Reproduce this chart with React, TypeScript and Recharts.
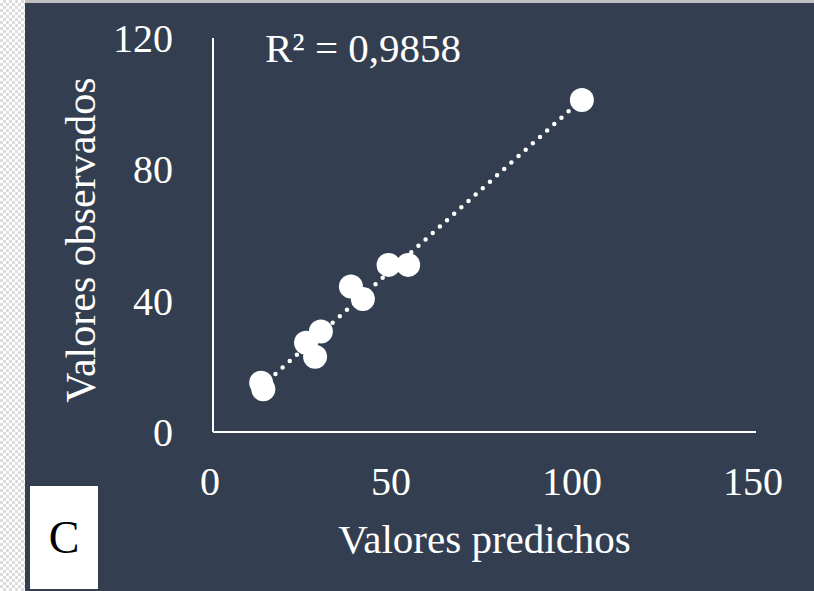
import { Label, ReferenceLine, Scatter, ScatterChart, XAxis, YAxis } from "recharts";

const predicted = [13.3, 13.9, 25.7, 28.2, 29.8, 38.1, 41.4, 48.5, 53.9, 101.9];
const observed = [15.0, 13.0, 27.2, 22.9, 30.6, 44.3, 40.5, 50.9, 50.9, 101.1];
const xTicks = [0, 50, 100, 150];
const yTicks = [0, 40, 80, 120];
const xTitle = "Valores predichos";
const yTitle = "Valores observados";
const r2Label = "R² = 0,9858";
const panelLetter = "C";

const points = predicted.map((x, i) => ({ x, y: observed[i] }));

// least-squares trendline, drawn between smallest and largest prediction
const mx = predicted.reduce((a, b) => a + b, 0) / predicted.length;
const my = observed.reduce((a, b) => a + b, 0) / observed.length;
const sxy = predicted.reduce((s, x, i) => s + (x - mx) * (observed[i] - my), 0);
const sxx = predicted.reduce((s, x) => s + (x - mx) ** 2, 0);
const slope = sxy / sxx;
const intercept = my - slope * mx;
const x0 = Math.min(...predicted);
const x1 = Math.max(...predicted);
const trend = [
  { x: x0, y: intercept + slope * x0 },
  { x: x1, y: intercept + slope * x1 },
];

const FONT = '"Liberation Serif", "Times New Roman", serif';
const BG = "#333f50";
const FG = "#ffffff";

const XTick = (p: any) => (
  <text x={p.x - 3} y={p.y + 63} textAnchor="middle" fill={FG} fontSize={40} fontFamily={FONT}>
    {p.payload.value}
  </text>
);

const YTick = (p: any) => (
  <text x={p.x - 40} y={p.y + 14} textAnchor="end" fill={FG} fontSize={40} fontFamily={FONT}>
    {p.payload.value}
  </text>
);

const Dot = (p: any) => <circle cx={p.cx} cy={p.cy} r={12} fill={FG} />;

export default function App() {
  return (
    <div
      style={{
        position: "absolute",
        left: 0,
        top: 0,
        width: 814,
        height: 591,
        overflow: "hidden",
        background: BG,
      }}
    >
      <div
        style={{
          position: "absolute",
          left: 0,
          top: 0,
          width: 25,
          height: 591,
          background: "repeating-conic-gradient(#dcdcdc 0% 25%, #ffffff 0% 50%) 0 0 / 6px 6px",
        }}
      />
      <div style={{ position: "absolute", left: 25, top: 0, width: 789, height: 3, background: "#bfbfbf" }} />
      <div style={{ position: "absolute", left: 0, top: 0 }}>
        <ScatterChart width={814} height={591} margin={{ top: 38, right: 58, bottom: 0, left: 0 }}>
          <XAxis
            type="number"
            dataKey="x"
            domain={[0, 150]}
            ticks={xTicks}
            height={159}
            tickSize={0}
            tickMargin={0}
            tickLine={false}
            axisLine={{ stroke: FG, strokeWidth: 2 }}
            tick={XTick}
          >
            <Label
              content={(p: any) => (
                <text
                  x={p.viewBox.x + p.viewBox.width / 2}
                  y={553}
                  textAnchor="middle"
                  fill={FG}
                  fontSize={41}
                  fontFamily={FONT}
                >
                  {xTitle}
                </text>
              )}
            />
          </XAxis>
          <YAxis
            type="number"
            dataKey="y"
            domain={[0, 120]}
            ticks={yTicks}
            width={213}
            tickSize={0}
            tickMargin={0}
            tickLine={false}
            axisLine={{ stroke: FG, strokeWidth: 2 }}
            tick={YTick}
          >
            <Label
              content={(p: any) => {
                const cy = p.viewBox.y + p.viewBox.height / 2 + 5;
                return (
                  <text
                    x={95}
                    y={cy}
                    transform={`rotate(-90 95 ${cy})`}
                    textAnchor="middle"
                    fill={FG}
                    fontSize={42}
                    fontFamily={FONT}
                  >
                    {yTitle}
                  </text>
                );
              }}
            />
          </YAxis>
          <ReferenceLine
            segment={trend}
            stroke={FG}
            strokeWidth={4.5}
            strokeDasharray="0 9.6"
            strokeLinecap="round"
          />
          <Scatter data={points} shape={Dot} isAnimationActive={false} />
        </ScatterChart>
      </div>
      <div
        style={{
          position: "absolute",
          left: 265,
          top: 28,
          fontFamily: FONT,
          fontSize: 41,
          color: FG,
          lineHeight: "41px",
          whiteSpace: "nowrap",
        }}
      >
        {r2Label}
      </div>
      <div
        style={{
          position: "absolute",
          left: 30,
          top: 486,
          width: 68,
          height: 103,
          background: "#ffffff",
          display: "flex",
          alignItems: "center",
          justifyContent: "center",
          fontFamily: FONT,
          fontSize: 46,
          color: "#000000",
        }}
      >
        {panelLetter}
      </div>
    </div>
  );
}
